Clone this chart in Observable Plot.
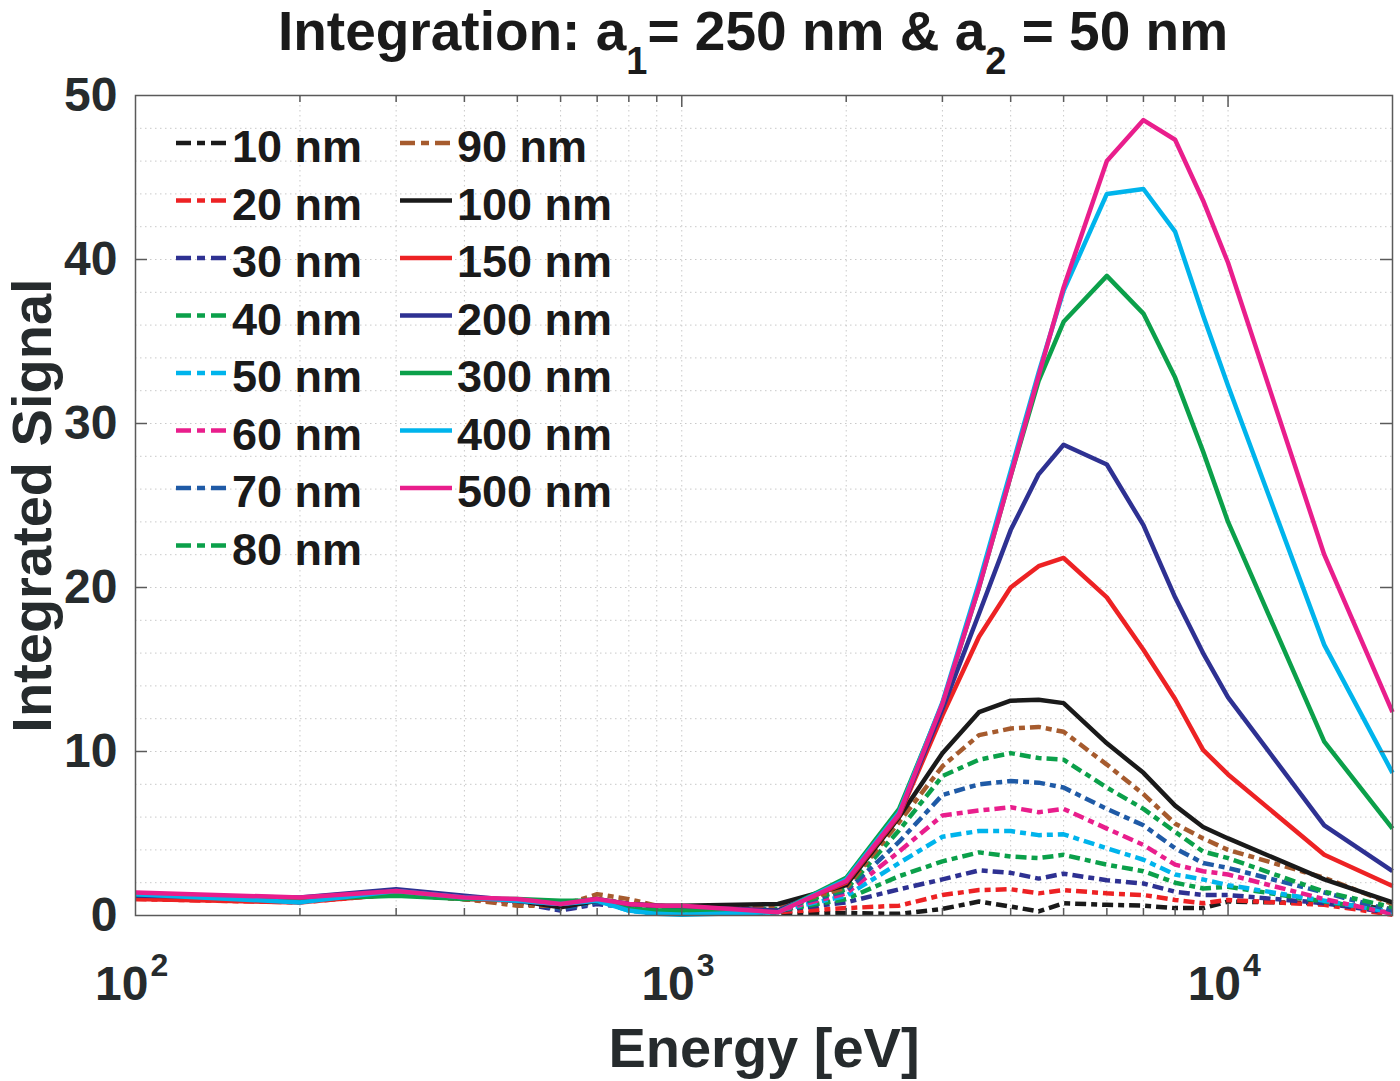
<!DOCTYPE html>
<html><head><meta charset="utf-8">
<script src="https://cdn.jsdelivr.net/npm/d3@7"></script>
<script src="https://cdn.jsdelivr.net/npm/@observablehq/plot@0.6"></script>
<style>
html,body{margin:0;padding:0;background:#fff;}
#wrap{position:relative;width:1400px;height:1081px;overflow:hidden;font-family:"Liberation Sans",Arial,sans-serif;}
#chart{position:absolute;left:0;top:0;}
#overlay{position:absolute;left:0;top:0;pointer-events:none;}
</style></head>
<body><div id="wrap"><div id="chart"></div><svg id="overlay" width="1400" height="1081"></svg></div>
<script>
// ---------- data ----------
const energy = [100,200,300,400,500,600,700,800,900,1000,1500,2000,2500,3000,3500,4000,4500,5000,6000,7000,8000,9000,10000,15000,20000];
const s10  = [1.2,1.0,1.4,1.0,0.8,0.4,0.8,0.6,0.5,0.5,0.1, 0.15,0.1,0.4,0.85,0.55,0.25,0.75,0.65,0.6,0.45,0.45,0.85,0.75,0.4];
const s20  = [1.0,0.8,1.3,1.0,0.8,0.5,0.9,0.6,0.5,0.5,0.2, 0.45,0.6,1.25,1.55,1.6,1.35,1.55,1.35,1.25,0.95,0.75,0.95,0.65,0.05];
const s30  = [1.2,1.0,1.5,1.1,0.8,0.3,0.7,0.5,0.4,0.4,0.3, 0.8,1.6,2.2,2.75,2.6,2.25,2.55,2.15,1.95,1.45,1.25,1.25,0.75,0.15];
const s40  = [1.2,1.0,1.3,1.0,0.9,0.7,0.9,0.5,0.4,0.3,0.3, 1.0,2.4,3.3,3.85,3.6,3.5,3.7,3.1,2.7,2.0,1.65,1.75,0.85,0.25];
const s50  = [1.3,0.8,1.5,1.1,0.9,0.6,0.9,0.3,0.1,0.1,0.3, 1.2,3.2,4.8,5.15,5.15,4.9,4.95,4.1,3.4,2.5,2.2,1.85,0.9,0.2];
const s60  = [1.3,1.0,1.5,1.1,0.9,0.6,0.9,0.6,0.5,0.5,0.3, 1.35,3.9,6.1,6.4,6.6,6.3,6.5,5.3,4.3,3.1,2.7,2.5,1.0,0.1];
const s70  = [1.3,1.0,1.5,1.1,0.9,0.4,0.8,0.5,0.5,0.5,0.4, 1.5,4.5,7.35,8.0,8.2,8.1,7.8,6.5,5.5,4.1,3.2,2.9,1.4,0.3];
const s80  = [1.2,1.0,1.3,1.0,0.9,0.8,1.0,0.7,0.5,0.4,0.4, 1.6,5.2,8.5,9.5,9.9,9.6,9.5,7.8,6.5,5.1,3.9,3.5,1.45,0.5];
const s90  = [1.2,1.0,1.4,1.0,0.6,0.6,1.3,1.0,0.6,0.5,0.5, 1.7,5.7,9.1,11.0,11.4,11.5,11.2,9.2,7.4,5.6,4.7,4.0,2.3,0.7];
const s100 = [1.2,1.0,1.4,1.1,0.9,0.5,0.9,0.7,0.6,0.6,0.7, 1.85,6.0,9.9,12.4,13.1,13.15,12.95,10.5,8.7,6.7,5.4,4.7,2.2,0.8];
const s150 = [1.0,0.8,1.3,1.0,0.9,0.7,1.0,0.7,0.6,0.5,0.3, 2.0,6.1,12.2,17.0,20.0,21.3,21.8,19.4,16.2,13.2,10.1,8.6,3.7,1.8];
const s200 = [1.2,1.1,1.6,1.2,0.9,0.7,1.0,0.7,0.6,0.5,0.3, 2.1,6.2,12.6,18.4,23.5,26.9,28.7,27.5,23.8,19.4,16.0,13.3,5.5,2.7];
const s300 = [1.3,1.0,1.2,1.0,1.0,0.9,0.9,0.4,0.3,0.3,0.2, 2.3,6.5,12.9,20.0,26.8,32.6,36.2,39.0,36.7,32.8,28.3,24.0,10.6,5.3];
const s400 = [1.3,0.8,1.5,1.1,0.9,0.7,0.9,0.3,0.1,0.05,0.2, 2.2,6.3,13.0,20.3,27.1,33.1,38.1,44.0,44.3,41.7,36.6,32.3,16.5,8.7];
const s500 = [1.4,1.1,1.5,1.1,1.0,0.7,1.0,0.7,0.6,0.6,0.2, 2.1,6.2,12.9,20.0,26.8,32.9,38.3,46.0,48.5,47.3,43.6,39.8,22.0,12.4];

const seriesNames = ["10 nm","20 nm","30 nm","40 nm","50 nm","60 nm","70 nm","80 nm","90 nm","100 nm","150 nm","200 nm","300 nm","400 nm","500 nm"];
const seriesValues = [s10,s20,s30,s40,s50,s60,s70,s80,s90,s100,s150,s200,s300,s400,s500];
const seriesColors = ["#1a1a1a","#ed2224","#2e3192","#0ba04a","#00b4ec","#e91e8c","#1f5aa6","#0ba04a","#a65b2e",
                      "#1a1a1a","#ed2224","#2e3192","#0ba04a","#00b4ec","#e91e8c"];
const seriesDashed = [true,true,true,true,true,true,true,true,true,false,false,false,false,false,false];

const xMajor = [100,1000,10000];
const xMinor = [200,300,400,500,600,700,800,900,2000,3000,4000,5000,6000,7000,8000,9000];
const yMajor = [0,10,20,30,40,50];
const yGrid  = [2,4,6,8,10,12,14,16,18,20,22,24,26,28,30,32,34,36,38,40,42,44,46,48];

// ---------- layout ----------
const W=1400,H=1081,mL=135,mR=8,mT=95,mB=166;
const fw=W-mL-mR, fh=H-mT-mB;
const axisColor="#262b2d", boxColor="#5a5a5a";
const dash="11,5,6,5";
const lw=4.5;

const rows = seriesNames.map((name,i)=>energy.map((e,j)=>({E:e, v:seriesValues[i][j], name})));

const gridStyle={stroke:"#c9c9c9", strokeWidth:1, strokeDasharray:"1.5,3.5"};

const lineMarks = rows.map((r,i)=>Plot.line(r,{x:"E", y:"v", stroke:seriesColors[i], strokeWidth:lw,
  strokeDasharray: seriesDashed[i]?dash:null, strokeLinejoin:"round", strokeLinecap:"butt"}));

const chart = Plot.plot({
  width:W, height:H, marginLeft:mL, marginRight:mR, marginTop:mT, marginBottom:mB,
  style:{fontFamily:"'Liberation Sans', Arial, sans-serif", background:"white", overflow:"visible"},
  x:{type:"log", domain:[100,20000], axis:null},
  y:{type:"linear", domain:[0,50], axis:null},
  marks:[
    Plot.ruleX([...xMinor, 1000, 10000], {x:d=>d, ...gridStyle}),
    Plot.ruleY(yGrid, {y:d=>d, ...gridStyle}),
    ...lineMarks,
    Plot.frame({stroke:boxColor, strokeWidth:1.5}),
    // inward ticks
    Plot.ruleX(xMinor,{x:d=>d, insetTop:fh-7, stroke:boxColor, strokeWidth:1.5}),
    Plot.ruleX(xMinor,{x:d=>d, insetBottom:fh-7, stroke:boxColor, strokeWidth:1.5}),
    Plot.ruleX(xMajor.slice(1),{x:d=>d, insetTop:fh-12, stroke:boxColor, strokeWidth:1.5}),
    Plot.ruleX(xMajor.slice(1),{x:d=>d, insetBottom:fh-12, stroke:boxColor, strokeWidth:1.5}),
    Plot.ruleY(yMajor.slice(1,-1),{y:d=>d, insetRight:fw-12, stroke:boxColor, strokeWidth:1.5}),
    Plot.ruleY(yMajor.slice(1,-1),{y:d=>d, insetLeft:fw-12, stroke:boxColor, strokeWidth:1.5}),
    // tick labels
    Plot.text(yMajor,{y:d=>d, text:d=>String(d), frameAnchor:"left", textAnchor:"end", lineAnchor:"middle",
      dx:-18, fontSize:48, fontWeight:"bold", fill:axisColor}),
    Plot.text(xMajor,{x:d=>d, text:()=>"10", frameAnchor:"bottom", textAnchor:"end", lineAnchor:"bottom",
      dx:13, dy:84, fontSize:48, fontWeight:"bold", fill:axisColor}),
    Plot.text(xMajor,{x:d=>d, text:d=>String(Math.round(Math.log10(d))), frameAnchor:"bottom", textAnchor:"start", lineAnchor:"bottom",
      dx:15, dy:60, fontSize:32, fontWeight:"bold", fill:axisColor}),
    // axis titles
    Plot.text(["Energy [eV]"],{text:d=>d, frameAnchor:"bottom", textAnchor:"middle", lineAnchor:"bottom", dy:151,
      fontSize:56, fontWeight:"bold", fill:axisColor}),
    Plot.text(["Integrated Signal"],{text:d=>d, frameAnchor:"left", textAnchor:"middle", rotate:-90, lineAnchor:"middle", dx:-102,
      fontSize:56, fontWeight:"bold", fill:axisColor})
  ]
});
document.getElementById("chart").appendChild(chart);

// ---------- title & legend overlay ----------
const ov = d3.select("#overlay");
const t = ov.append("text").attr("x",753).attr("y",50).attr("text-anchor","middle")
  .attr("font-family","'Liberation Sans', Arial, sans-serif").attr("font-weight","bold")
  .attr("font-size",55).attr("fill","#1a1a1a");
t.append("tspan").text("Integration: a");
t.append("tspan").attr("font-size",38).attr("dy",24).text("1");
t.append("tspan").attr("dy",-24).text("= 250 nm & a");
t.append("tspan").attr("font-size",38).attr("dy",24).text("2");
t.append("tspan").attr("dy",-24).text(" = 50 nm");

const legCols=[{x0:176,x1:228,tx:232},{x0:400,x1:452,tx:457}];
const leg = ov.append("g").attr("font-family","'Liberation Sans', Arial, sans-serif").attr("font-weight","bold").attr("font-size",45);
seriesNames.forEach((name,i)=>{
  const col = i<8?0:1, row = i<8?i:i-8;
  const base = 162 + row*57.5;
  const c = legCols[col];
  leg.append("line").attr("x1",c.x0).attr("x2",c.x1).attr("y1",base-19).attr("y2",base-19)
    .attr("stroke",seriesColors[i]).attr("stroke-width",lw)
    .attr("stroke-dasharray",seriesDashed[i]?"15,6,8,6":null);
  leg.append("text").attr("x",c.tx).attr("y",base).attr("fill","#1a1a1a").text(name);
});
</script></body></html>
